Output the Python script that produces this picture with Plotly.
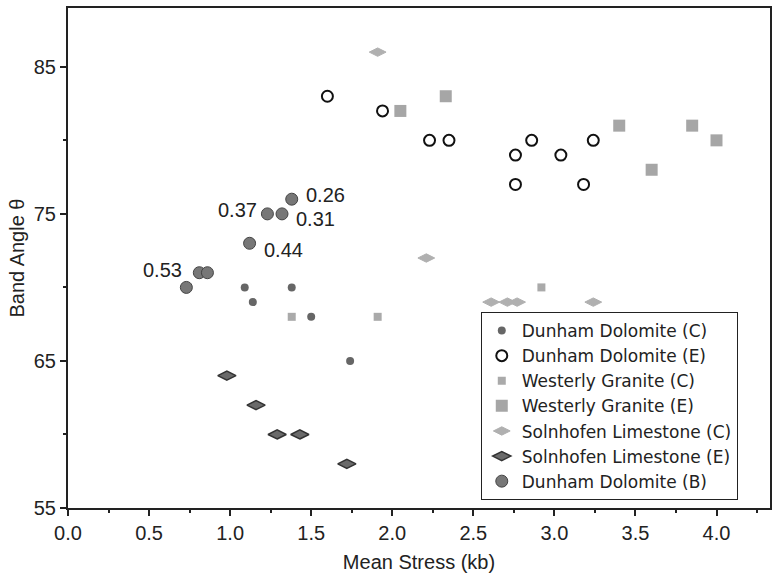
import plotly.graph_objects as go

# ---- data (Mean Stress kb, Band Angle deg) ----
dd_c_x = [1.09, 1.14, 1.38, 1.50, 1.74]
dd_c_y = [70, 69, 70, 68, 65]

dd_e_x = [1.60, 1.94, 2.23, 2.35, 2.86, 2.76, 3.04, 3.24, 2.76, 3.18]
dd_e_y = [83, 82, 80, 80, 80, 79, 79, 80, 77, 77]

wg_c_x = [1.38, 1.91, 2.92]
wg_c_y = [68, 68, 70]

wg_e_x = [2.05, 2.33, 3.40, 3.85, 4.00, 3.60]
wg_e_y = [82, 83, 81, 81, 80, 78]

sl_c_x = [1.91, 2.21, 2.61, 2.71, 2.77, 3.24]
sl_c_y = [86, 72, 69, 69, 69, 69]

sl_e_x = [0.98, 1.16, 1.29, 1.43, 1.72]
sl_e_y = [64, 62, 60, 60, 58]

dd_b_x = [1.38, 1.32, 1.23, 1.12, 0.81, 0.86, 0.73]
dd_b_y = [76, 75, 75, 73, 71, 71, 70]
dd_b_labels = ["0.26", "0.31", "0.37", "0.44", "0.53", "", ""]
label_anchor = ["left", "left", "right", "left", "right", "", ""]
label_dx = [12, 12, -8, 12, -15, 0, 0]
label_dy = [4, -5, 4, -7, 3, 0, 0]

x_ticks = [0.0, 0.5, 1.0, 1.5, 2.0, 2.5, 3.0, 3.5, 4.0]
y_ticks = [55, 65, 75, 85]

FONT = "Liberation Sans, Arial, Helvetica, sans-serif"
FS = 20

fig = go.Figure()

fig.add_trace(go.Scatter(x=dd_c_x, y=dd_c_y, mode="markers", name="Dunham Dolomite (C)",
                         marker=dict(symbol="circle", size=8, color="#666666",
                                     line=dict(width=0))))
fig.add_trace(go.Scatter(x=dd_e_x, y=dd_e_y, mode="markers", name="Dunham Dolomite (E)",
                         marker=dict(symbol="circle-open", size=11, color="#111111",
                                     line=dict(width=2, color="#111111"))))
fig.add_trace(go.Scatter(x=wg_c_x, y=wg_c_y, mode="markers", name="Westerly Granite (C)",
                         marker=dict(symbol="square", size=8, color="#aaaaaa",
                                     line=dict(width=0))))
fig.add_trace(go.Scatter(x=wg_e_x, y=wg_e_y, mode="markers", name="Westerly Granite (E)",
                         marker=dict(symbol="square", size=12, color="#a6a6a6",
                                     line=dict(width=0))))
fig.add_trace(go.Scatter(x=sl_c_x, y=sl_c_y, mode="markers", name="Solnhofen Limestone (C)",
                         marker=dict(symbol="diamond-wide", size=12, color="#b0b0b0",
                                     line=dict(width=1, color="#b0b0b0"))))
fig.add_trace(go.Scatter(x=sl_e_x, y=sl_e_y, mode="markers", name="Solnhofen Limestone (E)",
                         marker=dict(symbol="diamond-wide", size=13, color="#6a6a6a",
                                     line=dict(width=1.5, color="#333333"))))
fig.add_trace(go.Scatter(x=dd_b_x, y=dd_b_y, mode="markers", name="Dunham Dolomite (B)",
                         marker=dict(symbol="circle", size=12, color="#777777",
                                     line=dict(width=1, color="#444444"))))

for x, y, t, a, dx, dy in zip(dd_b_x, dd_b_y, dd_b_labels, label_anchor, label_dx, label_dy):
    if t:
        fig.add_annotation(x=x, y=y, text=t, showarrow=False, xanchor=a, yanchor="middle",
                           xshift=dx, yshift=dy,
                           font=dict(family=FONT, size=FS, color="#222222"))

axis_common = dict(showline=True, linecolor="#222222", linewidth=2, mirror=True,
                   ticks="outside", tickcolor="#222222", tickwidth=1.5, ticklen=6,
                   showgrid=False, zeroline=False,
                   tickfont=dict(family=FONT, size=FS, color="#222222"))

fig.update_layout(
    width=776, height=575,
    margin=dict(l=68, r=4, t=8, b=67),
    paper_bgcolor="white", plot_bgcolor="white",
    font=dict(family=FONT, size=FS, color="#222222"),
    showlegend=True,
    legend=dict(x=0.588, y=0.016, xanchor="left", yanchor="bottom",
                bordercolor="#222222", borderwidth=1, bgcolor="white",
                font=dict(family="DejaVu Sans, sans-serif", size=17, color="#222222"),
                tracegroupgap=0, itemsizing="trace", itemwidth=30),
)
fig.update_xaxes(range=[0, 4.33], tickvals=x_ticks,
                 ticktext=[f"{v:.1f}" for v in x_ticks],
                 minor=dict(dtick=0.25, tick0=0, ticks="outside", ticklen=3,
                            tickcolor="#222222", tickwidth=1.5),
                 title=dict(text="Mean Stress (kb)", font=dict(family=FONT, size=FS),
                            standoff=12),
                 **axis_common)
fig.update_yaxes(range=[55, 89], tickvals=y_ticks,
                 minor=dict(dtick=5, tick0=55, ticks="outside", ticklen=3,
                            tickcolor="#222222", tickwidth=1.5),
                 title=dict(text="Band Angle θ", font=dict(family=FONT, size=FS),
                            standoff=4),
                 **axis_common)

fig.write_html("out.html")
